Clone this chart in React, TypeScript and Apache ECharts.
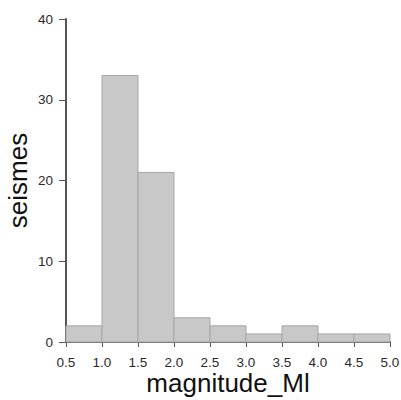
import React, { useEffect, useRef } from "react";
import * as echarts from "echarts";

const binStarts = [0.5, 1.0, 1.5, 2.0, 2.5, 3.0, 3.5, 4.0, 4.5];
const binWidth = 0.5;
const counts = [2, 33, 21, 3, 2, 1, 2, 1, 1];
const xTicks = [0.5, 1.0, 1.5, 2.0, 2.5, 3.0, 3.5, 4.0, 4.5, 5.0];
const yTicks = [0, 10, 20, 30, 40];

export default function App() {
  const ref = useRef<HTMLDivElement>(null);
  useEffect(() => {
    if (!ref.current) return;
    const chart = echarts.init(ref.current, null, { renderer: "svg" });
    const font = "'Liberation Sans', Helvetica, Arial, sans-serif";
    const data = binStarts.map((s, i) => [s, s + binWidth, counts[i]]);
    chart.setOption({
      animation: false,
      textStyle: { fontFamily: font },
      grid: { left: 66, right: 11, top: 19, bottom: 58, containLabel: false, outerBoundsMode: "none" },
      xAxis: {
        type: "value",
        min: xTicks[0],
        max: xTicks[xTicks.length - 1],
        interval: 0.5,
        name: "magnitude_Ml",
        nameLocation: "middle",
        nameGap: 28,
        nameMoveOverlap: false,
        nameTextStyle: { fontSize: 26, color: "#111", fontFamily: font },
        axisLine: { show: true, lineStyle: { color: "#555", width: 2 } },
        axisTick: { show: true, length: 5, lineStyle: { color: "#555", width: 1 } },
        axisLabel: {
          fontSize: 13.5,
          color: "#2a2a2a",
          margin: 13,
          fontFamily: font,
          formatter: (v: number) => v.toFixed(1),
        },
        splitLine: { show: false },
      },
      yAxis: {
        type: "value",
        min: yTicks[0],
        max: yTicks[yTicks.length - 1],
        interval: 10,
        name: "seismes",
        nameLocation: "middle",
        nameGap: 35,
        nameMoveOverlap: false,
        nameTextStyle: { fontSize: 26, color: "#111", fontFamily: font },
        axisLine: { show: true, lineStyle: { color: "#555", width: 2 } },
        axisTick: { show: true, length: 7, lineStyle: { color: "#555", width: 1 } },
        axisLabel: { fontSize: 13.5, color: "#2a2a2a", margin: 13, fontFamily: font },
        splitLine: { show: false },
      },
      series: [
        {
          type: "custom",
          data,
          encode: { x: [0, 1], y: 2 },
          renderItem: (params: any, api: any) => {
            const x0 = api.value(0);
            const x1 = api.value(1);
            const y = api.value(2);
            const p0 = api.coord([x0, y]);
            const p1 = api.coord([x1, 0]);
            return {
              type: "rect",
              shape: { x: p0[0], y: p0[1], width: p1[0] - p0[0], height: p1[1] - p0[1] },
              style: { fill: "#c8c8c8", stroke: "#a6a6a6", lineWidth: 1 },
            };
          },
          z: 1,
        },
      ],
    });
    return () => chart.dispose();
  }, []);
  return (
    <div
      ref={ref}
      style={{ position: "absolute", left: 0, top: 0, width: 401, height: 400 }}
    />
  );
}
